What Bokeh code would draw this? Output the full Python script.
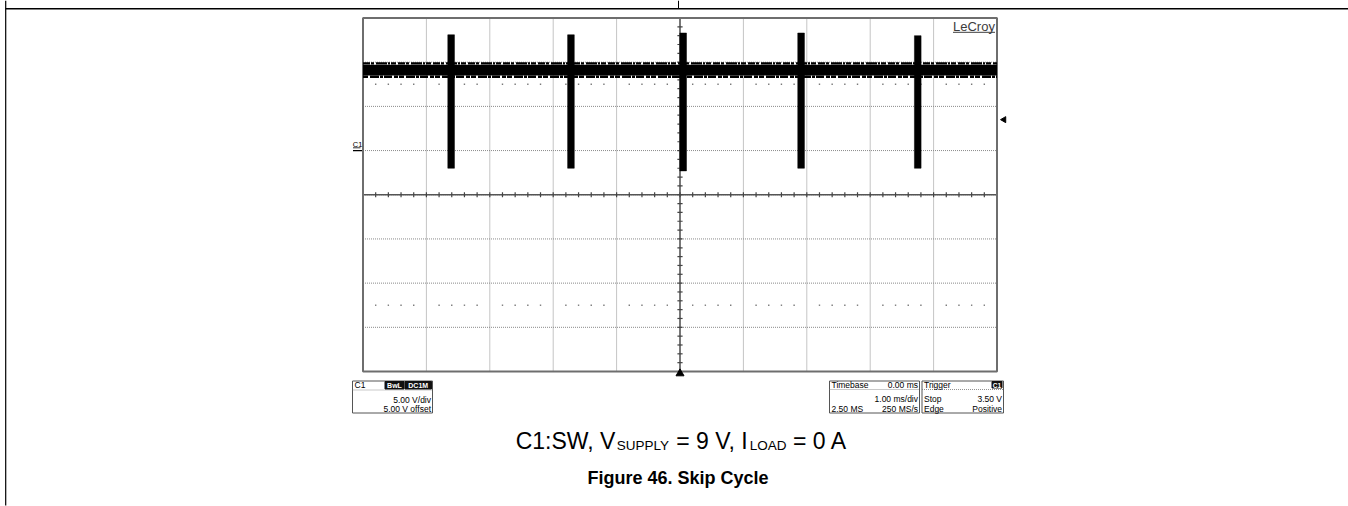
import numpy as np
from bokeh.plotting import figure
from bokeh.models import Range1d
from bokeh.core.properties import value
from bokeh.embed import file_html
from bokeh.resources import INLINE

# ---------------- data (read from the scope capture) ----------------
time_per_div_ms = 1.0        # Timebase 1.00 ms/div
volts_per_div = 5.0          # C1 5.00 V/div
offset_v = 5.0               # C1 5.00 V offset
n_hdiv, n_vdiv = 10, 8
trigger_time_ms = 0.0
trigger_level_v = 3.5

# switching bursts (skip cycle)
spike_t_ms = [-3.61, -1.72, 0.05, 1.91, 3.75]
spike_top_v = [13.1, 13.1, 13.3, 13.3, 13.0]
spike_bot_v = [-2.0, -2.0, -2.3, -2.0, -2.0]
spike_width_ms = [0.105, 0.105, 0.105, 0.105, 0.105]

# SW node resting level (noisy band around V_SUPPLY = 9 V)
band_low_v = 8.50
band_high_v = 9.72
noise_edge_v = [9.86, 8.36]

# caption pieces (text, is_subscript)
caption_parts = [("C1:SW, V", False), ("SUPPLY", True), (" = 9 V, I", False),
                 ("LOAD", True), (" = 0 A", False)]

# ---------------- layout (page pixels) ----------------
W, H = 1348, 506
PX0, PY0 = 0, 0
SCR_L, SCR_R, SCR_T, SCR_B = 362.5, 996.5, 17.5, 371.0

T_MIN = -n_hdiv / 2 * time_per_div_ms
T_MAX = n_hdiv / 2 * time_per_div_ms
V_CEN = -offset_v
V_MIN = V_CEN - n_vdiv / 2 * volts_per_div
V_MAX = V_CEN + n_vdiv / 2 * volts_per_div

sx = (SCR_R - SCR_L) / (T_MAX - T_MIN)   # px per ms
sy = (SCR_B - SCR_T) / (V_MAX - V_MIN)   # px per V
x_start = T_MIN - (SCR_L - PX0) / sx
x_end = T_MAX + (PX0 + W - SCR_R) / sx
y_end = V_MAX + (SCR_T - PY0) / sy
y_start = V_MIN - (PY0 + H - SCR_B) / sy


def px2t(x):
    return T_MIN + (x - SCR_L) / sx


def py2v(y):
    return V_MAX - (y - SCR_T) / sy


p = figure(width=W, height=H, x_range=Range1d(x_start, x_end),
           y_range=Range1d(y_start, y_end), x_axis_type=None, y_axis_type=None,
           output_backend="svg", toolbar_location=None, min_border=0)
p.outline_line_color = None
p.background_fill_color = "white"
p.border_fill_color = "white"

FONT = "Liberation Sans"


def label(xp, yp, s, size, align="left", baseline="middle", style="normal",
          color="#000000", font=FONT):
    p.text(x=[px2t(xp)], y=[py2v(yp)], text=[s], text_font=value(font),
           text_font_size=f"{size}px", text_align=align, text_baseline=baseline,
           text_font_style=style, text_color=color)


def hline(x0, x1, y, color="#000000", width=1.0, dash="solid"):
    p.segment(x0=[px2t(x0)], x1=[px2t(x1)], y0=[py2v(y)], y1=[py2v(y)],
              line_color=color, line_width=width, line_dash=dash)


def vline(x, y0, y1, color="#000000", width=1.0, dash="solid"):
    p.segment(x0=[px2t(x)], x1=[px2t(x)], y0=[py2v(y0)], y1=[py2v(y1)],
              line_color=color, line_width=width, line_dash=dash)


def box(l, r, t, b, fill=None, line="#555555", width=1.0):
    p.quad(left=[px2t(l)], right=[px2t(r)], top=[py2v(t)], bottom=[py2v(b)],
           fill_color=fill, line_color=line, line_width=width)


# ---------------- page rules ----------------
hline(5, W, 8.2, width=1.6)
vline(5.2, 0, 505, width=1.2)
vline(678, 0, 8, width=1.0)

# ---------------- graticule ----------------
gx = [T_MIN + i * time_per_div_ms for i in range(1, n_hdiv)]
gy = [V_MIN + j * volts_per_div for j in range(1, n_vdiv)]
p.segment(x0=gx, x1=gx, y0=[V_MIN] * len(gx), y1=[V_MAX] * len(gx),
          line_color="#8a8a8a", line_width=1, line_dash="1 1")
p.segment(x0=[T_MIN] * len(gy), x1=[T_MAX] * len(gy), y0=gy, y1=gy,
          line_color="#8a8a8a", line_width=1, line_dash="1 1")

# dotted rows at +/- 2.5 div
dot_t = [T_MIN + k * time_per_div_ms / 5 for k in range(1, 5 * n_hdiv) if k % 5]
for vrow in (V_CEN + 2.5 * volts_per_div, V_CEN - 2.5 * volts_per_div):
    p.scatter(x=dot_t, y=[vrow] * len(dot_t), marker="square", size=1.4,
              color="#7a7a7a", line_width=0)

# centre axes with minor ticks
p.segment(x0=[T_MIN], x1=[T_MAX], y0=[V_CEN], y1=[V_CEN], line_color="#555555", line_width=1.5)
p.segment(x0=[0], x1=[0], y0=[V_MIN], y1=[V_MAX], line_color="#555555", line_width=1.5)
tk_t = [T_MIN + k * time_per_div_ms / 5 for k in range(1, 5 * n_hdiv)]
dv = 2.6 / sy
p.segment(x0=tk_t, x1=tk_t, y0=[V_CEN - dv] * len(tk_t), y1=[V_CEN + dv] * len(tk_t),
          line_color="#444444", line_width=1.2)
tk_v = [V_MIN + k * volts_per_div / 5 for k in range(1, 5 * n_vdiv)]
dt = 2.6 / sx
p.segment(x0=[-dt] * len(tk_v), x1=[dt] * len(tk_v), y0=tk_v, y1=tk_v,
          line_color="#444444", line_width=1.2)

# frame
p.quad(left=[T_MIN], right=[T_MAX], top=[V_MAX], bottom=[V_MIN], fill_color=None,
       line_color="#6e6e6e", line_width=2)

# ---------------- trace ----------------
p.varea(x=[T_MIN, T_MAX], y1=[band_low_v, band_low_v], y2=[band_high_v, band_high_v],
        fill_color="black")
p.line(x=[T_MIN, T_MAX], y=[noise_edge_v[0]] * 2, line_color="black", line_width=2.4,
       line_dash="7 1 3 2 11 1 2 1 5 2")
p.line(x=[T_MIN, T_MAX], y=[noise_edge_v[1]] * 2, line_color="black", line_width=2.4,
       line_dash="5 2 9 1 3 1 8 2 4 1")
sl = [t - w / 2 for t, w in zip(spike_t_ms, spike_width_ms)]
sr = [t + w / 2 for t, w in zip(spike_t_ms, spike_width_ms)]
p.quad(left=sl, right=sr, top=spike_top_v, bottom=spike_bot_v, fill_color="black",
       line_color="black", line_width=0.5)

# markers: trigger level (right) and trigger time (bottom)
p.scatter(x=[T_MAX + 7 / sx], y=[trigger_level_v], marker="triangle", angle=np.pi / 2,
          size=6, color="black")
p.scatter(x=[trigger_time_ms], y=[V_MIN - 2 / sy], marker="triangle", size=8, color="black")

# ground marker C1 (channel ground sits at 0 V)
label(352.3, 143.8, "C1", 7.5)
hline(352.5, 360, 147.3, width=0.8)
p.segment(x0=[px2t(352.5)], x1=[px2t(361.5)], y0=[0], y1=[0], line_color="black",
          line_width=1.2)

# LeCroy logo
label(952.5, 25.5, "LeCroy", 13, color="#3c3c3c")
hline(952.5, 994.5, 31.8, color="#3c3c3c", width=1)

# ---------------- info boxes ----------------
IS = 8.5
# C1 box
box(352, 432, 380.5, 412.5)
hline(352, 432, 389.5, color="#777777", width=0.8, dash="1 1")
label(354, 384.6, "C1", IS)
box(384.5, 403.5, 381, 388.5, fill="#111111", line="#111111")
box(404.5, 431, 381, 388.5, fill="#111111", line="#111111")
label(394, 384.8, "BwL", 7, align="center", style="bold", color="white")
label(417.7, 384.8, "DC1M", 7, align="center", style="bold", color="white")
label(430.5, 399.5, "5.00 V/div", IS, align="right")
label(430.5, 408.3, "5.00 V offset", IS, align="right")

# Timebase box
box(829, 919, 380.5, 412.5)
hline(829, 919, 389, color="#777777", width=0.8, dash="1 1")
label(831, 384.6, "Timebase", IS)
label(917.5, 384.6, "0.00 ms", IS, align="right")
label(917.5, 398.5, "1.00 ms/div", IS, align="right")
label(831, 408.3, "2.50 MS", IS)
label(917.5, 408.3, "250 MS/s", IS, align="right")

# Trigger box
box(921.5, 1003, 380.5, 412.5)
hline(921.5, 1003, 389, color="#777777", width=0.8, dash="1 1")
label(923.5, 384.6, "Trigger", IS)
box(991.5, 1001.5, 381, 387.5, fill="#111111", line="#111111")
label(996.5, 384.5, "C1", 6.5, align="center", style="bold", color="white")
label(1001.5, 398.5, "3.50 V", IS, align="right")
label(923.5, 398.5, "Stop", IS)
label(923.5, 408.3, "Edge", IS)
label(1001.5, 408.3, "Positive", IS, align="right")

# ---------------- captions ----------------
ARIAL_W = {'C': 722, '1': 556, ':': 278, 'S': 667, 'W': 944, ',': 278, ' ': 278,
           'V': 667, 'U': 722, 'P': 667, 'L': 556, 'Y': 667, '=': 584, '9': 556,
           'I': 278, 'O': 778, 'A': 667, 'D': 722, '0': 556}
CAP, SUB, BASE = 23, 13.5, 440


def tw(s, size):
    return sum(ARIAL_W.get(c, 556) for c in s) * size / 1000.0


total = sum(tw(s, SUB if sub else CAP) for s, sub in caption_parts)
cx = 681 - total / 2
for s, sub in caption_parts:
    size = SUB if sub else CAP
    lead = len(s) - len(s.lstrip(" "))
    label(cx + tw(" " * lead, size), BASE + (4.5 if sub else 0), s.lstrip(" "), size,
          baseline="alphabetic")
    cx += tw(s, size)

label(677.5, 477, "Figure 46. Skip Cycle", 18, align="center", baseline="alphabetic",
      style="bold")

open("out.html", "w").write(file_html(p, INLINE))
